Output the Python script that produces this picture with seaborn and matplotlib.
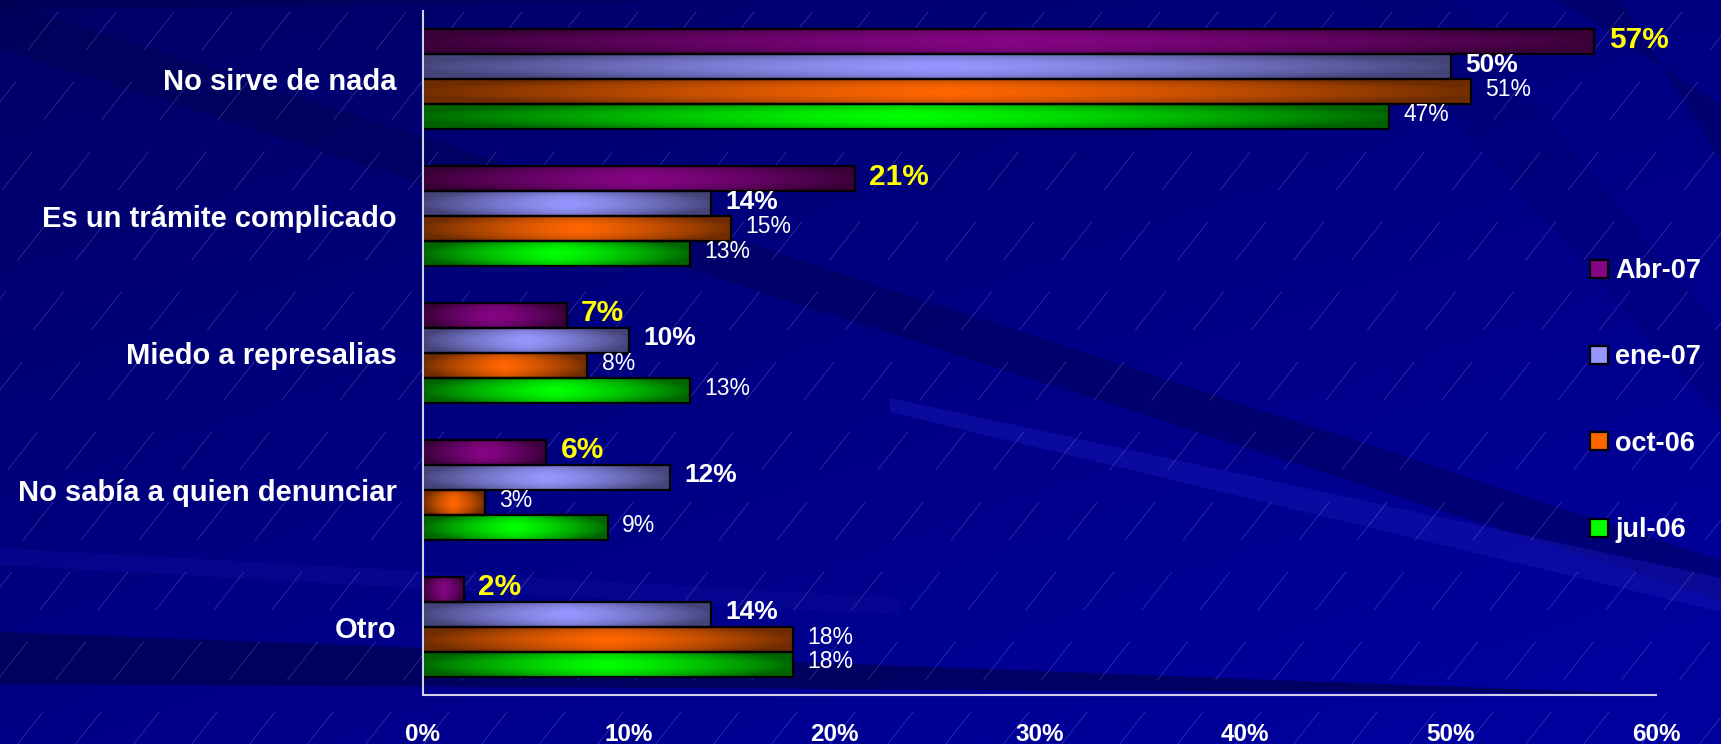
import numpy as np
import pandas as pd
import seaborn as sns
import matplotlib.pyplot as plt
from matplotlib.colors import to_rgb
from matplotlib.lines import Line2D
from matplotlib.patches import Polygon
from matplotlib.ticker import FixedLocator, PercentFormatter

# DATA
categories = ['No sirve de nada', 'Es un trámite complicado', 'Miedo a represalias',
              'No sabía a quien denunciar', 'Otro']
series = ['Abr-07', 'ene-07', 'oct-06', 'jul-06']
abr07 = [57, 21, 7, 6, 2]
ene07 = [50, 14, 10, 12, 14]
oct06 = [51, 15, 8, 3, 18]
jul06 = [47, 13, 13, 9, 18]
x_ticks = [0, 10, 20, 30, 40, 50, 60]

# bright centre / dark edge of each bar gradient
bright = ['#850585', '#9696ff', '#ff6600', '#00ff00']
dark = ['#3a0038', '#44447a', '#6e2c00', '#006400']

values = [abr07, ene07, oct06, jul06]
df = pd.DataFrame({
    'causa': categories * len(series),
    'serie': np.repeat(series, len(categories)),
    'pct': abr07 + ene07 + oct06 + jul06,
})

sns.set_style('white')
plt.rcParams['font.family'] = ['Liberation Sans', 'DejaVu Sans']

fig = plt.figure(figsize=(17.21, 7.44), dpi=100)

# BACKGROUND (gradient, diagonal bands, thin hatch lines)
bg = fig.add_axes([0, 0, 1, 1], zorder=-10)
bg.set_xlim(0, 1721)
bg.set_ylim(744, 0)
bg.axis('off')
yy, xx = np.mgrid[0:744:4, 0:1721:4]
t = np.clip((yy / 744) * 0.55 + (xx / 1721) * 0.45 + 0.1, 0, 1)
c0 = np.array(to_rgb('#000060'))
c1 = np.array(to_rgb('#00009c'))
img = c0 + (c1 - c0) * t[..., None]
bg.imshow(img, extent=[0, 1721, 744, 0], aspect='auto', zorder=0)
bands = [
    ([(0, 0), (0, 48), (1721, 600), (1721, 560), (1200, 390)], '#000050', 0.45),
    ([(0, 0), (0, 10), (700, 0)], '#000050', 0.5),
    ([(0, 632), (0, 684), (1650, 694)], '#000052', 0.75),
    ([(0, 548), (0, 565), (900, 615), (900, 598)], '#0a0a96', 0.6),
    ([(890, 398), (890, 412), (1721, 612), (1721, 578)], '#1414b0', 0.55),
    ([(1560, 0), (1620, 0), (1721, 160), (1721, 105)], '#000060', 0.6),
    ([(1350, 0), (1450, 0), (1721, 330), (1721, 420)], '#000070', 0.35),
]
for pts, col, a in bands:
    bg.add_patch(Polygon(pts, closed=True, color=col, alpha=a, lw=0, zorder=1))
for gx in np.arange(-900, 1721, 58):
    for k, gy in enumerate(np.arange(-20, 800, 70)):
        x0 = gx + gy * 0.78 + (k % 3) * 19
        if -60 < x0 < 1780:
            bg.plot([x0, x0 + 30], [gy, gy - 38], color='#c8c8ff', lw=0.5, alpha=0.28, zorder=2)

# MAIN CHART
ax = fig.add_axes([423 / 1721, 1 - 695 / 744, (1656 - 423) / 1721, (695 - 11) / 744])
ax.set_facecolor('none')
sns.barplot(data=df, y='causa', x='pct', hue='serie', order=categories, hue_order=series,
            width=0.73, orient='h', edgecolor='black', linewidth=1.6, legend=False, ax=ax)

for i, cont in enumerate(ax.containers):
    cb = np.array(to_rgb(bright[i]))
    cd = np.array(to_rgb(dark[i]))
    for bar, v in zip(cont, values[i]):
        x0, y0 = bar.get_x(), bar.get_y()
        w, h = bar.get_width(), bar.get_height()
        gy, gx = np.mgrid[-1:1:40j, -1:1:200j]
        tt = np.clip(np.abs(gx) ** 1.3 * 0.95 + 0.4 * gy ** 2, 0, 1)
        grad = cb + (cd - cb) * tt[..., None]
        im = ax.imshow(grad, extent=[x0, x0 + w, y0 + h, y0], aspect='auto',
                       interpolation='bilinear', zorder=0.9)
        im.set_clip_path(bar)
        bar.set_facecolor('none')
        bar.set_zorder(1.5)
        # value label
        lab = f'{v}%'
        yc = y0 + h / 2 - 0.015
        if i == 0:
            ax.text(v + 0.7, yc, lab, color='#ffff00', fontsize=21.5, fontweight='bold',
                    va='center', ha='left')
        elif i == 1:
            ax.text(v + 0.7, yc, lab, color='white', fontsize=19, fontweight='bold',
                    va='center', ha='left')
        else:
            ax.text(v + 0.7, yc, lab, color='white', fontsize=16.5,
                    va='center', ha='left')

ax.set_xlim(0, 60)
ax.set_ylim(len(categories) - 0.5, -0.5)

# AXES STYLE
for s in ['top', 'right']:
    ax.spines[s].set_visible(False)
for s in ['left', 'bottom']:
    ax.spines[s].set_color('#d0d0e8')
    ax.spines[s].set_linewidth(1.5)
ax.xaxis.set_major_locator(FixedLocator(x_ticks))
ax.xaxis.set_major_formatter(PercentFormatter(decimals=0))
ax.tick_params(axis='x', colors='#d0d0e8', length=9, width=1.3, direction='out',
               labelcolor='white', labelsize=17.5, pad=11)
for lbl in ax.get_xticklabels():
    lbl.set_fontweight('bold')
ax.set_yticks(range(len(categories)))
ax.set_yticklabels(categories, fontsize=21, fontweight='bold', color='white')
ax.yaxis.set_minor_locator(FixedLocator(np.arange(-0.5, len(categories), 1.0)))
ax.tick_params(axis='y', which='major', length=0, pad=19)
ax.tick_params(axis='y', which='minor', length=9, width=1.3, color='#d0d0e8', direction='out')
ax.set_xlabel('')
ax.set_ylabel('')

# LEGEND
handles = [Line2D([], [], marker='s', linestyle='none', markersize=12.5,
                  markerfacecolor=bright[i], markeredgecolor='black', markeredgewidth=1.6)
           for i in range(len(series))]
leg = fig.legend(handles, series, loc='upper left', bbox_to_anchor=(1585 / 1721, 1 - 258 / 744),
                 frameon=False, fontsize=19.5, labelspacing=2.23, handletextpad=0.12,
                 handlelength=1.0, borderpad=0, borderaxespad=0)
for txt in leg.get_texts():
    txt.set_color('white')
    txt.set_fontweight('bold')

fig.savefig('out.png', dpi=100)
